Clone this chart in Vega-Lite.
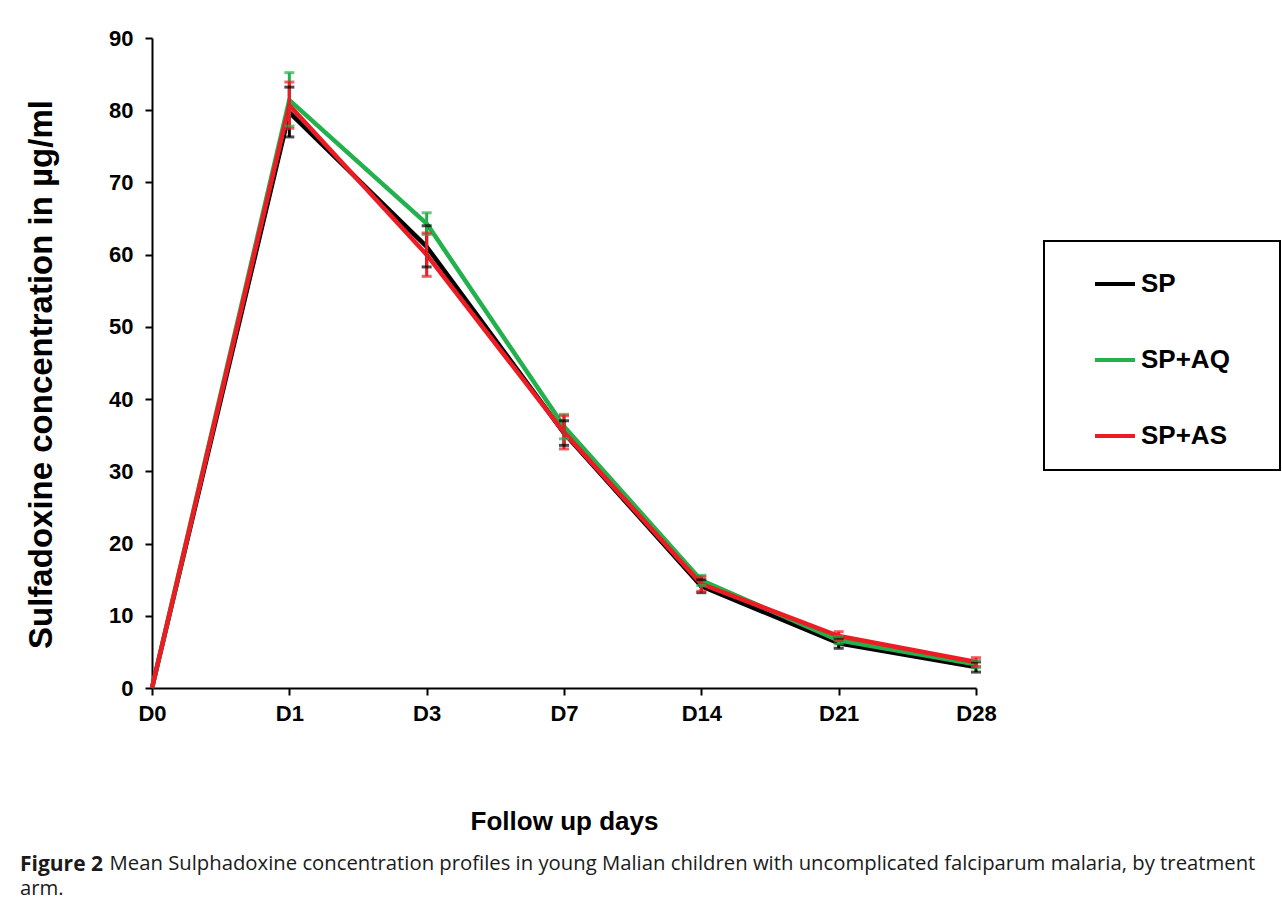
{
  "$schema": "https://vega.github.io/schema/vega-lite/v6.json",
  "width": 824,
  "height": 650,
  "autosize": {"type": "none"},
  "padding": {"left": 152, "top": 38, "right": 306, "bottom": 216},
  "background": "white",
  "title": {
    "text": "Figure 2",
    "subtitle": ["\u200b\u00a0\u00a0\u00a0\u00a0\u00a0\u00a0\u00a0\u00a0\u00a0\u00a0\u00a0\u00a0\u00a0\u00a0\u00a0\u00a0\u00a0Mean Sulphadoxine concentration profiles in young Malian children with uncomplicated falciparum malaria, by treatment", "arm."],
    "orient": "bottom",
    "anchor": "start",
    "frame": "group",
    "dx": -132,
    "offset": 20,
    "font": "Open Sans",
    "fontSize": 21,
    "fontWeight": "bold",
    "color": "#1a1a1a",
    "subtitleFont": "Open Sans",
    "subtitleFontSize": 20.3,
    "subtitleFontWeight": "normal",
    "subtitleColor": "#1a1a1a",
    "subtitleLineHeight": 25,
    "subtitlePadding": -21
  },
  "data": {
    "values": [
      {"day": "D0", "arm": "SP", "mean": 0},
      {"day": "D0", "arm": "SP+AQ", "mean": 0},
      {"day": "D0", "arm": "SP+AS", "mean": 0},
      {"day": "D1", "arm": "SP", "mean": 79.7, "lo": 76.3, "hi": 83.2},
      {"day": "D1", "arm": "SP+AQ", "mean": 81.4, "lo": 77.8, "hi": 85.2},
      {"day": "D1", "arm": "SP+AS", "mean": 80.7, "lo": 77.5, "hi": 83.9},
      {"day": "D3", "arm": "SP", "mean": 61.1, "lo": 58.3, "hi": 64.0},
      {"day": "D3", "arm": "SP+AQ", "mean": 64.3, "lo": 62.8, "hi": 65.8},
      {"day": "D3", "arm": "SP+AS", "mean": 60.0, "lo": 57.0, "hi": 63.0},
      {"day": "D7", "arm": "SP", "mean": 35.3, "lo": 33.6, "hi": 37.0},
      {"day": "D7", "arm": "SP+AQ", "mean": 36.2, "lo": 34.5, "hi": 37.9},
      {"day": "D7", "arm": "SP+AS", "mean": 35.4, "lo": 33.1, "hi": 37.7},
      {"day": "D14", "arm": "SP", "mean": 14.1, "lo": 13.2, "hi": 15.0},
      {"day": "D14", "arm": "SP+AQ", "mean": 14.9, "lo": 14.2, "hi": 15.6},
      {"day": "D14", "arm": "SP+AS", "mean": 14.4, "lo": 13.4, "hi": 15.4},
      {"day": "D21", "arm": "SP", "mean": 6.2, "lo": 5.5, "hi": 6.9},
      {"day": "D21", "arm": "SP+AQ", "mean": 6.6, "lo": 6.1, "hi": 7.1},
      {"day": "D21", "arm": "SP+AS", "mean": 7.2, "lo": 6.6, "hi": 7.8},
      {"day": "D28", "arm": "SP", "mean": 2.9, "lo": 2.2, "hi": 3.6},
      {"day": "D28", "arm": "SP+AQ", "mean": 3.3, "lo": 2.8, "hi": 3.8},
      {"day": "D28", "arm": "SP+AS", "mean": 3.6, "lo": 3.0, "hi": 4.2}
    ]
  },
  "encoding": {
    "x": {
      "field": "day",
      "type": "ordinal",
      "sort": ["D0", "D1", "D3", "D7", "D14", "D21", "D28"],
      "scale": {"type": "point", "padding": 0},
      "axis": {
        "title": "Follow up days",
        "titleFont": "Liberation Sans",
        "titleFontSize": 26,
        "titleFontWeight": "bold",
        "titleColor": "black",
        "titlePadding": 84,
        "labelAngle": 0,
        "labelFont": "Liberation Sans",
        "labelFontSize": 22,
        "labelFontWeight": "bold",
        "labelColor": "black",
        "labelPadding": 8,
        "tickSize": 7,
        "tickWidth": 2,
        "tickColor": "black",
        "domainColor": "black",
        "domainWidth": 2,
        "grid": false
      }
    },
    "color": {
      "field": "arm",
      "type": "nominal",
      "scale": {"domain": ["SP", "SP+AQ", "SP+AS"], "range": ["#000000", "#22b14c", "#ed1c24"]}
    }
  },
  "layer": [
    {
      "mark": {"type": "line", "strokeWidth": 4.5, "strokeJoin": "round"},
      "encoding": {
        "y": {
          "field": "mean",
          "type": "quantitative",
          "scale": {"domain": [0, 90], "nice": false},
          "axis": {
            "title": "Sulfadoxine concentration in µg/ml",
            "titleFont": "Liberation Sans",
            "titleFontSize": 33,
            "titleFontWeight": "bold",
            "titleColor": "black",
            "titlePadding": 50,
            "titleY": 336,
            "values": [0, 10, 20, 30, 40, 50, 60, 70, 80, 90],
            "labelFont": "Liberation Sans",
            "labelFontSize": 22,
            "labelFontWeight": "bold",
            "labelColor": "black",
            "labelPadding": 12,
            "tickSize": 7,
            "tickWidth": 2,
            "tickColor": "black",
            "domainColor": "black",
            "domainWidth": 2,
            "grid": false
          }
        },
        "color": {
          "field": "arm",
          "type": "nominal",
          "legend": {
            "title": null,
            "orient": "none",
            "legendX": 892,
            "legendY": 203,
            "padding": 21,
            "symbolOffset": 28,
            "symbolType": "stroke",
            "symbolSize": 1600,
            "symbolStrokeWidth": 4,
            "labelFont": "Liberation Sans",
            "labelFontSize": 26,
            "labelFontWeight": "bold",
            "labelColor": "black",
            "labelOffset": 4,
            "rowPadding": 41,
            "strokeColor": "black",
            "labelExpr": "datum.label + '\u00a0\u00a0\u00a0\u00a0\u200b'"
          }
        }
      }
    },
    {
      "transform": [{"filter": "datum.lo != null"}],
      "mark": {"type": "rule", "strokeWidth": 3},
      "encoding": {
        "y": {"field": "lo", "type": "quantitative"},
        "y2": {"field": "hi"},
        "color": {"field": "arm", "type": "nominal", "legend": null}
      }
    },
    {
      "transform": [{"filter": "datum.lo != null"}],
      "mark": {"type": "tick", "orient": "horizontal", "size": 10, "thickness": 3},
      "encoding": {
        "y": {"field": "lo", "type": "quantitative"},
        "color": {"field": "arm", "type": "nominal", "legend": null}
      }
    },
    {
      "transform": [{"filter": "datum.hi != null"}],
      "mark": {"type": "tick", "orient": "horizontal", "size": 10, "thickness": 3},
      "encoding": {
        "y": {"field": "hi", "type": "quantitative"},
        "color": {"field": "arm", "type": "nominal", "legend": null}
      }
    }
  ],
  "config": {
    "view": {"stroke": null},
    "legend": {"strokeWidth": 2}
  }
}
